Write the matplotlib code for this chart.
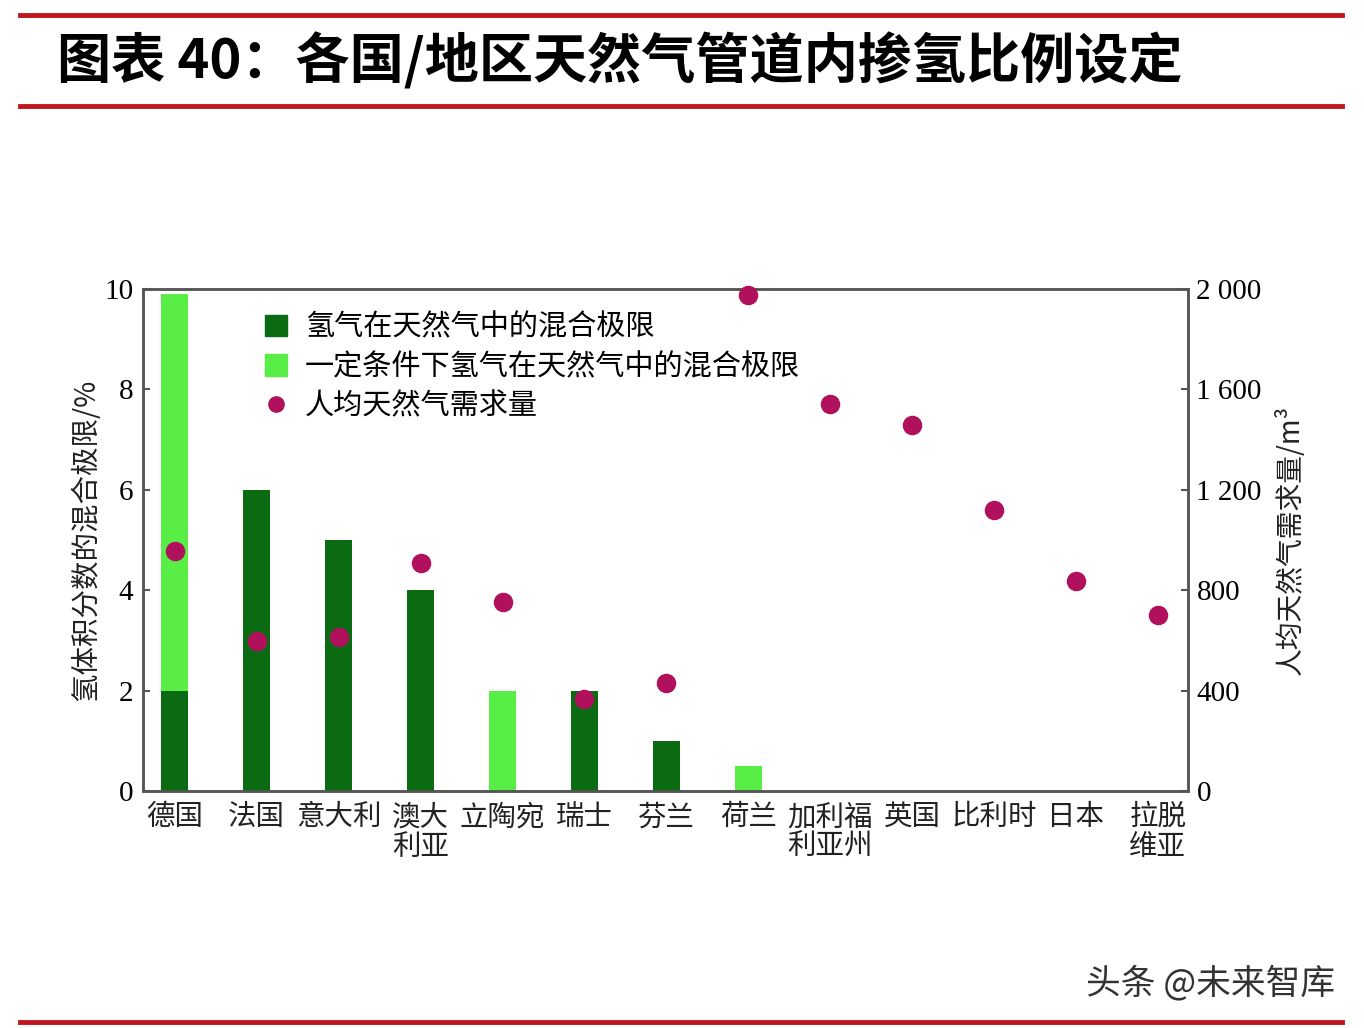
import numpy as np
import matplotlib
matplotlib.use("Agg")
import matplotlib.pyplot as plt
from matplotlib.lines import Line2D
from matplotlib.patches import Patch

plt.rcParams['font.family'] = ['Noto Sans CJK SC', 'DejaVu Sans']

# data
countries = ['德国', '法国', '意大利', '澳大\n利亚', '立陶宛', '瑞士', '芬兰', '荷兰',
             '加利福\n利亚州', '英国', '比利时', '日本', '拉脱\n维亚']
mix_limit = [2, 6, 5, 4, 0, 2, 1, 0, 0, 0, 0, 0, 0]                 # dark green
mix_limit_cond = [9.9, 0, 0, 0, 2, 0, 0, 0.5, 0, 0, 0, 0, 0]        # light green
gas_demand = [956, 598, 614, 908, 753, 367, 430, 1976, 1542, 1458, 1120, 837, 701]

left_ticks = [0, 2, 4, 6, 8, 10]
right_ticks = [0, 400, 800, 1200, 1600, 2000]
right_ticklabels = ['0', '400', '800', '1 200', '1 600', '2 000']

dark = '#0b6b13'
light = '#58ee46'
dot = '#b0105c'
red = '#c0161e'
num_font = ['Liberation Serif', 'DejaVu Serif']

fig = plt.figure(figsize=(13.64, 10.28), dpi=100)
ax = fig.add_axes([0.1048, 0.2305, 0.7662, 0.4884])

x = np.arange(len(countries))
w = 0.33
# light bar is drawn full height, dark bar on top of it
b_light = ax.bar(x, mix_limit_cond, width=w, color=light, zorder=2)
b_dark = ax.bar(x, mix_limit, width=w, color=dark, zorder=3)

ax.set_xlim(-0.39, 12.37)
ax.set_ylim(0, 10)
ax.set_yticks(left_ticks)
ax.set_yticklabels([str(t) for t in left_ticks], family=num_font, fontsize=21)
ax.set_xticks(x)
ax.set_xticklabels(countries, fontsize=20.5, linespacing=1.0, color='#222222')
ax.tick_params(axis='x', length=0, pad=8)
ax.tick_params(axis='y', direction='in', length=5, width=1.5, color='#555555', pad=7)
for s in ax.spines.values():
    s.set_color('#555555')
    s.set_linewidth(1.8)
ax.set_ylabel('氢体积分数的混合极限/%', fontsize=20.5, color='#222222', labelpad=2)

ax2 = ax.twinx()
ax2.scatter(x, gas_demand, s=170, color=dot, zorder=5, clip_on=False)
ax2.set_ylim(0, 2000)
ax2.set_yticks(right_ticks)
ax2.set_yticklabels(right_ticklabels, family=num_font, fontsize=21)
ax2.tick_params(axis='y', direction='in', length=5, width=1.5, color='#555555', pad=6)
for s in ax2.spines.values():
    s.set_color('#555555')
    s.set_linewidth(1.8)
ax2.set_ylabel('人均天然气需求量/m³', fontsize=20, color='#222222', labelpad=10)

handles = [Patch(color=dark), Patch(color=light),
           Line2D([], [], marker='o', linestyle='none', color=dot, markersize=11)]
labels = ['氢气在天然气中的混合极限', '一定条件下氢气在天然气中的混合极限', '人均天然气需求量']
ax2.legend(handles, labels, loc='upper left', bbox_to_anchor=(0.092, 1.005),
           frameon=False, fontsize=21, handlelength=0.75, handleheight=0.75,
           handletextpad=0.6, labelspacing=0.32)

# header / footer decoration
fig.add_artist(Line2D([20/1364, 1342/1364], [1-15/1028, 1-15/1028], color=red, lw=3.5))
fig.add_artist(Line2D([20/1364, 1342/1364], [1-106/1028, 1-106/1028], color=red, lw=3.5))
fig.add_artist(Line2D([20/1364, 1342/1364], [1-1022/1028, 1-1022/1028], color=red, lw=3.5))
fig.text(57/1364, 1-62/1028, '图表 40：各国/地区天然气管道内掺氢比例设定', fontsize=39,
         fontweight='bold', va='center', ha='left', color='black')
fig.text(1335/1364, 1-983/1028, '头条 @未来智库', fontsize=25, va='center', ha='right',
         color='#333333')

fig.savefig('out.png', dpi=100, facecolor='white')
